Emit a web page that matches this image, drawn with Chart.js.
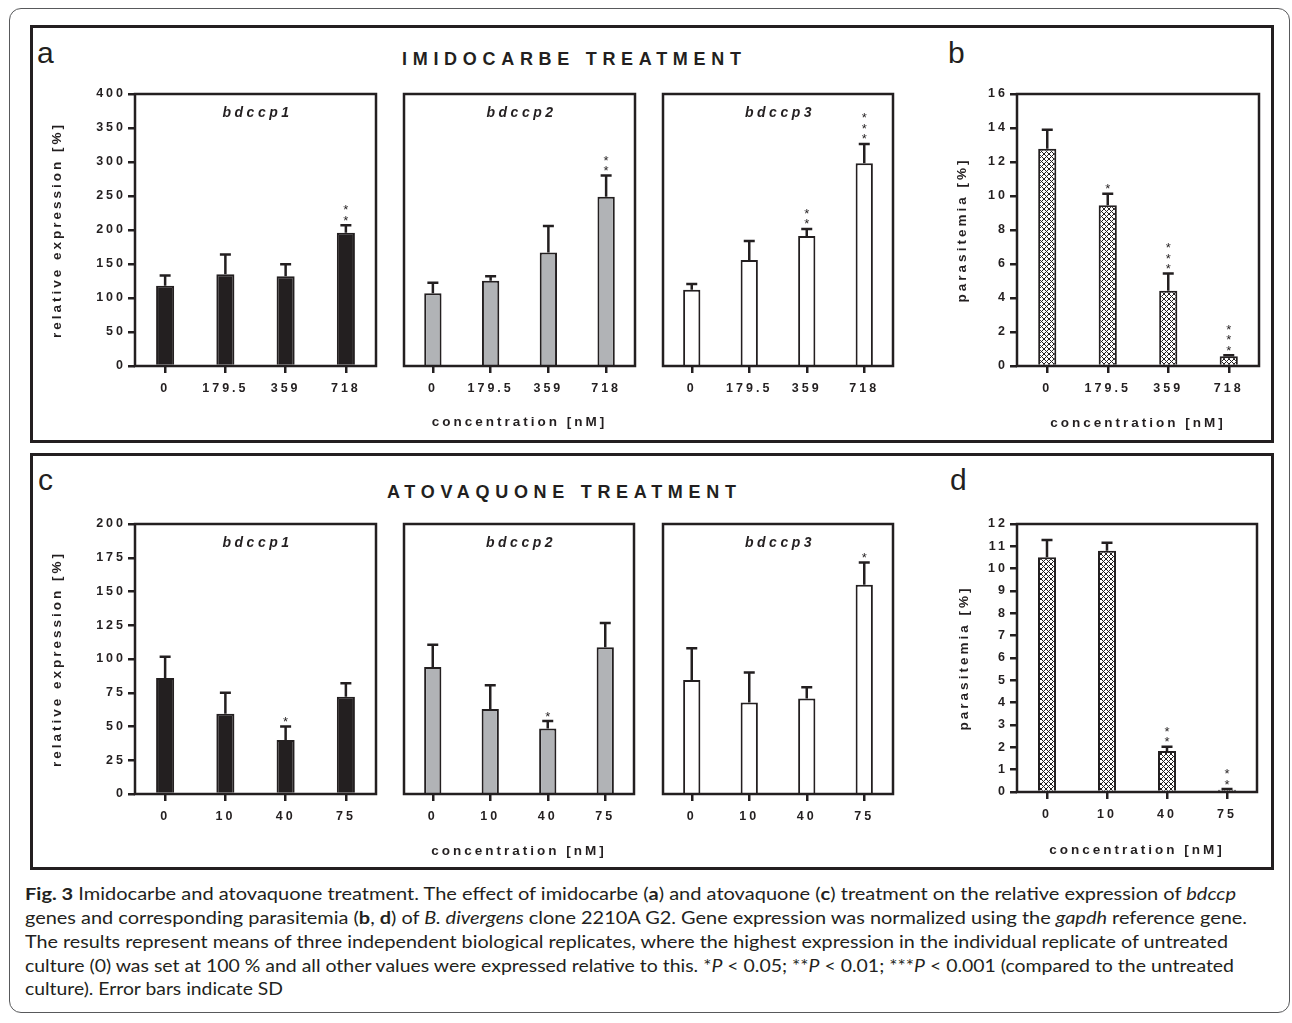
<!DOCTYPE html>
<html>
<head>
<meta charset="utf-8">
<script src="https://cdn.jsdelivr.net/npm/chart.js@4.4.1/dist/chart.umd.min.js"></script>
<style>
  body { margin: 0; width: 1292px; height: 1023px; position: relative; overflow: hidden; background: #fff; color: #231f20; font-family: 'Liberation Sans', Arial, sans-serif; }
  .marco { position: absolute; left: 9px; top: 8px; width: 1281px; height: 1005px; border: 1px solid #58595b; border-radius: 12px; box-sizing: border-box; }
  .panel { position: absolute; left: 30px; width: 1244px; border: 3px solid #231f20; box-sizing: border-box; }
  .letra { position: absolute; font-size: 30px; line-height: 30px; }
  .titulo { position: absolute; font-size: 18px; font-weight: bold; letter-spacing: 5.7px; white-space: nowrap; line-height: 20px; }
  canvas { position: absolute; }
  .linea { position: absolute; left: 25px; white-space: nowrap; font-family: Lato, 'Open Sans', sans-serif; font-size: 17px; line-height: 24px; transform-origin: 0 50%; }
</style>
</head>
<body>
<div class="marco"></div>
<div class="panel" style="top:25px;height:418px"></div>
<div class="panel" style="top:453px;height:417px"></div>

<div class="letra" style="left:37px;top:38px">a</div>
<div class="letra" style="left:948px;top:38px">b</div>
<div class="letra" style="left:38px;top:465px">c</div>
<div class="letra" style="left:950px;top:465px">d</div>
<div class="titulo" style="left:402px;top:49px">IMIDOCARBE TREATMENT</div>
<div class="titulo" style="left:387px;top:482px">ATOVAQUONE TREATMENT</div>

<canvas id="a1"></canvas>
<canvas id="a2"></canvas>
<canvas id="a3"></canvas>
<canvas id="b"></canvas>
<canvas id="c1"></canvas>
<canvas id="c2"></canvas>
<canvas id="c3"></canvas>
<canvas id="d"></canvas>

<div class="linea" style="top:882px" data-ancho="1211"><b>Fig. 3</b> Imidocarbe and atovaquone treatment. The effect of imidocarbe (<b>a</b>) and atovaquone (<b>c</b>) treatment on the relative expression of <i>bdccp</i></div>
<div class="linea" style="top:906px" data-ancho="1222">genes and corresponding parasitemia (<b>b</b>, <b>d</b>) of <i>B. divergens</i> clone 2210A G2. Gene expression was normalized using the <i>gapdh</i> reference gene.</div>
<div class="linea" style="top:930px" data-ancho="1203">The results represent means of three independent biological replicates, where the highest expression in the individual replicate of untreated</div>
<div class="linea" style="top:954px" data-ancho="1209">culture (0) was set at 100 % and all other values were expressed relative to this. *<i>P</i> &lt; 0.05; **<i>P</i> &lt; 0.01; ***<i>P</i> &lt; 0.001 (compared to the untreated</div>
<div class="linea" style="top:977px" data-ancho="258">culture). Error bars indicate SD</div>

<script>
// categorias (concentraciones en nM)
const imidoConc = ['0', '179.5', '359', '718']
const atovaConc = ['0', '10', '40', '75']

// ticks de los ejes y
const imidoExprTicks = [0, 50, 100, 150, 200, 250, 300, 350, 400]
const imidoParasitTicks = [0, 2, 4, 6, 8, 10, 12, 14, 16]
const atovaExprTicks = [0, 25, 50, 75, 100, 125, 150, 175, 200]
const atovaParasitTicks = [0, 1, 2, 3, 4, 5, 6, 7, 8, 9, 10, 11, 12]

// imidocarbe: expresion relativa [%], SD y significancia
const imidoBdccp1 = [118, 135, 132, 196]
const imidoBdccp1Sd = [15, 29, 17.5, 11]
const imidoBdccp1Sig = ['', '', '', '**']
const imidoBdccp2 = [107, 125.5, 167, 249]
const imidoBdccp2Sd = [15.5, 6.5, 39, 31]
const imidoBdccp2Sig = ['', '', '', '**']
const imidoBdccp3 = [112, 156, 191, 298]
const imidoBdccp3Sd = [8.5, 28, 10.5, 28.5]
const imidoBdccp3Sig = ['', '', '**', '***']
const imidoParasit = [12.78, 9.46, 4.42, 0.57]
const imidoParasitSd = [1.12, 0.67, 1.02, 0.06]
const imidoParasitSig = ['', '*', '***', '***']

// atovaquone
const atovaBdccp1 = [86, 59.5, 40, 72]
const atovaBdccp1Sd = [15.6, 15.5, 10, 10]
const atovaBdccp1Sig = ['', '', '*', '']
const atovaBdccp2 = [94, 63, 48.5, 108.7]
const atovaBdccp2Sd = [16.5, 17.5, 5.5, 18]
const atovaBdccp2Sig = ['', '', '*', '']
const atovaBdccp3 = [84.5, 67.8, 70.7, 155]
const atovaBdccp3Sd = [23.5, 22.2, 8.3, 16.5]
const atovaBdccp3Sig = ['', '', '', '*']
const atovaParasit = [10.51, 10.8, 1.84, 0.1]
const atovaParasitSd = [0.77, 0.36, 0.19, 0.03]
const atovaParasitSig = ['', '', '**', '**']

const ink = '#231f20'
const gray = '#b1b3b6'
const family = "'Liberation Sans', Arial, sans-serif"
const tickFont = { family, size: 12.5, weight: 700 }
const titleFont = { family, size: 13.5, weight: 700 }

const crosshatch = (ctx) => {
    const tile = document.createElement('canvas')
    tile.width = 5
    tile.height = 5
    const g = tile.getContext('2d')
    g.fillStyle = '#fff'
    g.fillRect(0, 0, 5, 5)
    g.strokeStyle = ink
    g.lineWidth = 1
    g.beginPath()
    g.moveTo(0, 0); g.lineTo(5, 5)
    g.moveTo(5, 0); g.lineTo(0, 5)
    g.stroke()
    return ctx.chart.ctx.createPattern(tile, 'repeat')
}

// barras de error, estrellas, marco y nombre del gen
const extras = (sd, sig, name) => ({
    id: 'extras',
    beforeDraw: chart => { chart.ctx.letterSpacing = '3px' },
    afterDatasetsDraw: chart => {
        const { ctx, chartArea: a, scales: { y } } = chart
        const values = chart.data.datasets[0].data
        ctx.save()
        ctx.strokeStyle = ink
        ctx.fillStyle = ink
        chart.getDatasetMeta(0).data.forEach((bar, i) => {
            const top = y.getPixelForValue(values[i] + sd[i])
            const base = y.getPixelForValue(values[i])
            ctx.lineWidth = 2.5
            ctx.beginPath()
            ctx.moveTo(bar.x, base)
            ctx.lineTo(bar.x, top)
            ctx.moveTo(bar.x - 5.5, top)
            ctx.lineTo(bar.x + 5.5, top)
            ctx.stroke()
            ctx.letterSpacing = '0px'
            ctx.font = `13px ${family}`
            ctx.textAlign = 'center'
            ctx.textBaseline = 'alphabetic'
            for (let k = 0; k < sig[i].length; k++) {
                ctx.fillText('*', bar.x, top - 8 - k * 10.5 + 7.5)
            }
        })
        ctx.lineWidth = 2.5
        ctx.strokeRect(a.left, a.top, a.right - a.left, a.bottom - a.top)
        if (name) {
            ctx.font = `italic bold 14px ${family}`
            ctx.letterSpacing = '3.5px'
            ctx.textAlign = 'center'
            ctx.textBaseline = 'middle'
            ctx.fillText(name, (a.left + a.right) / 2 + 2, a.top + 19)
        }
        ctx.restore()
    }
})

const makeChart = ({ id, box, area, labels, ticks, values, sd, sig, fill, name, yTitle, xTitle, xTitlePad }) => {
    const canvas = document.getElementById(id)
    canvas.width = box.w
    canvas.height = box.h
    canvas.style.left = box.x + 'px'
    canvas.style.top = box.y + 'px'
    const hasY = Boolean(yTitle)
    return new Chart(canvas, {
        type: 'bar',
        data: {
            labels,
            datasets: [{
                data: values,
                backgroundColor: fill,
                borderColor: ink,
                borderWidth: 2,
                barPercentage: 0.3,
                categoryPercentage: 1
            }]
        },
        options: {
            responsive: false,
            animation: false,
            devicePixelRatio: 1,
            layout: {
                padding: {
                    left: hasY ? 0 : area.left - box.x,
                    top: area.top - box.y,
                    right: box.x + box.w - area.right,
                    bottom: 0
                }
            },
            plugins: { legend: { display: false }, tooltip: { enabled: false } },
            scales: {
                x: {
                    offset: true,
                    grid: { offset: false, drawOnChartArea: false, tickLength: 7, color: ink, lineWidth: 2.5 },
                    border: { display: false },
                    ticks: { font: tickFont, color: ink, padding: 8, maxRotation: 0, autoSkip: false },
                    title: { display: Boolean(xTitle), text: xTitle || '', font: titleFont, color: ink, padding: { top: 0, bottom: xTitlePad || 0 } },
                    afterFit: s => { s.height = box.y + box.h - area.bottom }
                },
                y: {
                    display: hasY,
                    min: ticks[0],
                    max: ticks[ticks.length - 1],
                    afterBuildTicks: s => { s.ticks = ticks.map(v => ({ value: v })) },
                    grid: { drawOnChartArea: false, tickLength: 7, color: ink, lineWidth: 2.5 },
                    border: { display: false },
                    ticks: { font: tickFont, color: ink, padding: 2 },
                    title: { display: hasY, text: yTitle || '', font: titleFont, color: ink, padding: 0 },
                    afterFit: s => { s.width = area.left - box.x }
                }
            }
        },
        plugins: [extras(sd, sig, name)]
    })
}

const expr = 'relative expression [%]'
const parasit = 'parasitemia [%]'
const conc = 'concentration [nM]'

makeChart({ id: 'a1', box: { x: 49, y: 84, w: 331, h: 356 }, area: { left: 135, top: 94, right: 376, bottom: 366 },
    labels: imidoConc, ticks: imidoExprTicks, values: imidoBdccp1, sd: imidoBdccp1Sd, sig: imidoBdccp1Sig, fill: ink, name: 'bdccp1', yTitle: expr })
makeChart({ id: 'a2', box: { x: 384, y: 84, w: 255, h: 356 }, area: { left: 394, top: 94, right: 635, bottom: 366 },
    labels: imidoConc, ticks: imidoExprTicks, values: imidoBdccp2, sd: imidoBdccp2Sd, sig: imidoBdccp2Sig, fill: gray, name: 'bdccp2', xTitle: conc, xTitlePad: 9.9 })
makeChart({ id: 'a3', box: { x: 643, y: 84, w: 254, h: 356 }, area: { left: 653, top: 94, right: 893, bottom: 366 },
    labels: imidoConc, ticks: imidoExprTicks, values: imidoBdccp3, sd: imidoBdccp3Sd, sig: imidoBdccp3Sig, fill: '#fff', name: 'bdccp3' })
makeChart({ id: 'b', box: { x: 954, y: 84, w: 309, h: 356 }, area: { left: 1017, top: 94, right: 1259, bottom: 366 },
    labels: imidoConc, ticks: imidoParasitTicks, values: imidoParasit, sd: imidoParasitSd, sig: imidoParasitSig, fill: crosshatch, name: '', yTitle: parasit, xTitle: conc, xTitlePad: 8.9 })

makeChart({ id: 'c1', box: { x: 49, y: 514, w: 331, h: 356 }, area: { left: 135, top: 524, right: 376, bottom: 794 },
    labels: atovaConc, ticks: atovaExprTicks, values: atovaBdccp1, sd: atovaBdccp1Sd, sig: atovaBdccp1Sig, fill: ink, name: 'bdccp1', yTitle: expr })
makeChart({ id: 'c2', box: { x: 384, y: 514, w: 255, h: 356 }, area: { left: 394, top: 524, right: 634, bottom: 794 },
    labels: atovaConc, ticks: atovaExprTicks, values: atovaBdccp2, sd: atovaBdccp2Sd, sig: atovaBdccp2Sig, fill: gray, name: 'bdccp2', xTitle: conc, xTitlePad: 10.9 })
makeChart({ id: 'c3', box: { x: 643, y: 514, w: 254, h: 356 }, area: { left: 653, top: 524, right: 893, bottom: 794 },
    labels: atovaConc, ticks: atovaExprTicks, values: atovaBdccp3, sd: atovaBdccp3Sd, sig: atovaBdccp3Sig, fill: '#fff', name: 'bdccp3' })
makeChart({ id: 'd', box: { x: 956, y: 514, w: 305, h: 356 }, area: { left: 1017, top: 524, right: 1257, bottom: 792 },
    labels: atovaConc, ticks: atovaParasitTicks, values: atovaParasit, sd: atovaParasitSd, sig: atovaParasitSig, fill: crosshatch, name: '', yTitle: parasit, xTitle: conc, xTitlePad: 11.9 })

// ajustar ancho de cada linea del pie de figura
const ajustarLineas = () => {
    document.querySelectorAll('.linea').forEach(l => {
        l.style.transform = 'none'
        const w = l.getBoundingClientRect().width
        l.style.transform = `scaleX(${Number(l.dataset.ancho) / w})`
    })
}
ajustarLineas()
document.fonts.ready.then(ajustarLineas)
</script>
</body>
</html>
